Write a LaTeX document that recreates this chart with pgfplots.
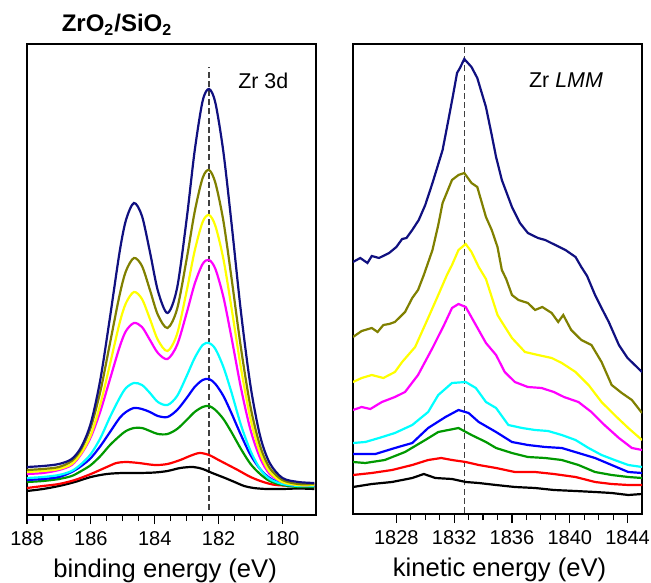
\documentclass[border=0pt]{standalone}
\usepackage{pgfplots}
\pgfplotsset{compat=1.18}
\usepackage{fontspec}
\setmainfont{Liberation Sans}

\definecolor{cnavy}{RGB}{16,16,128}
\definecolor{colive}{RGB}{128,128,0}
\definecolor{cyel}{RGB}{255,255,0}
\definecolor{cmag}{RGB}{255,0,255}
\definecolor{ccyan}{RGB}{0,255,255}
\definecolor{cblue}{RGB}{0,0,255}
\definecolor{cgreen}{RGB}{0,153,0}
\definecolor{cred}{RGB}{255,0,0}

\pgfplotsset{
  spec/.style={
    scale only axis, width=144.5pt,
    ymax=471, ytick=\empty,
    xtick pos=left, xtick align=outside,
    major tick length=4.5pt, minor tick length=3pt,
    tick style={black, line width=0.6pt},
    axis line style={line width=0.6pt},
    every axis plot/.append style={line width=1.1pt},
    tick label style={font=\fontsize{10}{12}\selectfont},
    xticklabel style={anchor=base, yshift=-10.6pt},
    /pgf/number format/assume math mode=true,
    /pgf/number format/set thousands separator={},
    xlabel style={font=\fontsize{12.8}{15}\selectfont, anchor=base},
  },
  vline/.style={black!75, line width=0.6pt, dash pattern=on 3pt off 1.6pt},
}

\begin{document}
\begin{tikzpicture}
\path[use as bounding box] (0pt,0pt) rectangle (325.5pt,291pt);

\node[font=\bfseries\fontsize{12}{14}\selectfont, anchor=base] at (58.5pt,275pt)
  {ZrO\textsubscript{2}/SiO\textsubscript{2}};

% Zr 3d (binding energy)
\begin{axis}[spec, at={(13.5pt,33.5pt)}, anchor=south west, height=235.5pt, ymin=0,
  x dir=reverse, xmin=178.95, xmax=188,
  xtick={180,182,184,186,188}, minor x tick num=3,
  xlabel={binding energy (eV)},
  xlabel style={at={(axis description cs:0.478,0)}, yshift=-31pt}]
\addplot[vline] coordinates {(182.3,5) (182.3,448)};
\addplot[black, smooth] coordinates {
(188,24) (187.5,26) (187,29) (186.5,33) (186,38) (185.5,41) (185,42) (184.5,42)
(184,42.5) (183.6,44) (183.2,47) (182.8,48) (182.5,46) (182.2,42) (181.8,37)
(181.5,33) (181.2,29) (180.9,27) (180.5,26) (180,26) (179.5,26.5) (179,26)};
\addplot[cred, smooth] coordinates {
(188,27) (187.5,29) (187,31) (186.5,35) (186,41) (185.5,48) (185.2,52) (184.9,53)
(184.5,52) (184,50) (183.6,51) (183.2,55) (182.9,59) (182.6,62) (182.3,60) (182,55)
(181.7,50) (181.4,45) (181,38) (180.6,33) (180.2,30) (179.5,29) (179,28)};
\addplot[cgreen, smooth] coordinates {
(188,33) (187.5,34) (187,36) (186.6,39) (186.3,44) (186,50) (185.7,59) (185.4,70)
(185.1,79) (184.9,84) (184.65,87) (184.4,87) (184.15,84) (183.9,81) (183.6,81)
(183.3,86) (183,95) (182.75,103) (182.5,108) (182.3,109) (182.1,105) (181.85,96)
(181.6,83) (181.3,66) (181,51) (180.7,41) (180.4,34) (180,30) (179.5,28) (179,28)};
\addplot[cblue, smooth] coordinates {
(188,35) (187.5,36) (187,38) (186.6,43) (186.3,49) (186,57) (185.7,69) (185.4,83)
(185.1,97) (184.9,103) (184.65,107) (184.4,106) (184.15,103) (183.9,99) (183.6,98)
(183.3,105) (183,117) (182.75,128) (182.5,135) (182.3,136) (182.1,131) (181.85,119)
(181.6,102) (181.3,80) (181,60) (180.7,46) (180.4,37) (180,31) (179.5,29) (179,29)};
\addplot[ccyan, smooth] coordinates {
(188,37) (187.5,38) (187,40) (186.6,44) (186.3,51) (186,61) (185.7,77) (185.4,98)
(185.1,117) (184.9,127) (184.65,132) (184.4,130) (184.15,122) (183.9,113) (183.6,110)
(183.3,119) (183,139) (182.75,157) (182.5,170) (182.3,172) (182.1,166) (181.85,148)
(181.6,123) (181.3,90) (181,64) (180.7,46) (180.4,36) (180,31) (179.5,29) (179,29)};
\addplot[cmag, smooth] coordinates {
(188,41) (187.5,42) (187,45) (186.6,50) (186.3,61) (186,78) (185.7,104) (185.4,136)
(185.1,168) (184.9,184) (184.65,192) (184.4,188) (184.15,175) (183.9,162) (183.6,156)
(183.3,170) (183,202) (182.75,231) (182.5,251) (182.3,255) (182.1,246) (181.85,218)
(181.6,178) (181.3,127) (181,85) (180.7,57) (180.4,41) (180,33) (179.5,30) (179,30)};
\addplot[cyel, smooth] coordinates {
(188,43) (187.5,44) (187,46) (186.6,51) (186.3,62) (186,80) (185.7,111) (185.4,151)
(185.1,192) (184.9,212) (184.65,223) (184.4,216) (184.15,196) (183.9,175) (183.6,164)
(183.3,181) (183,224) (182.75,264) (182.5,293) (182.3,300) (182.1,289) (181.85,256)
(181.6,208) (181.3,147) (181,96) (180.7,62) (180.4,43) (180,33) (179.5,30) (179,30)};
\addplot[colive, smooth] coordinates {
(188,45) (187.5,46) (187,48) (186.6,54) (186.3,66) (186,88) (185.7,124) (185.4,172)
(185.1,220) (184.9,244) (184.65,257) (184.4,249) (184.15,225) (183.9,200) (183.6,187)
(183.3,206) (183,256) (182.75,303) (182.5,337) (182.3,345) (182.1,332) (181.85,294)
(181.6,238) (181.3,167) (181,108) (180.7,69) (180.4,47) (180,35) (179.5,31) (179,31)};
\addplot[cnavy, smooth] coordinates {
(188,48) (187.5,49) (187,51) (186.6,56) (186.3,68) (186,92) (185.7,136) (185.4,198)
(185.1,263) (184.9,295) (184.65,312) (184.4,299) (184.15,263) (183.9,224) (183.6,202)
(183.3,227) (183,296) (182.75,364) (182.5,414) (182.3,426) (182.1,412) (181.85,363)
(181.6,293) (181.3,203) (181,129) (180.7,79) (180.4,52) (180,37) (179.5,33) (179,32)};
\node[font=\fontsize{10.7}{13}\selectfont] at (axis cs:180.6,434.5) {Zr 3d};
\end{axis}

% Zr LMM (kinetic energy)
\begin{axis}[spec, at={(176.5pt,34pt)}, anchor=south west, height=235pt, ymin=1,
  xmin=1825, xmax=1845,
  xtick={1828,1832,1836,1840,1844}, minor x tick num=3,
  xlabel={kinetic energy (eV)},
  xlabel style={at={(axis description cs:0.507,0)}, yshift=-31pt}]
\addplot[vline] coordinates {(1832.7,2) (1832.7,468)};
\addplot[black] coordinates {
(1825,28) (1826.3,31) (1827.7,33) (1829.1,37) (1829.9,41) (1830.7,37) (1831.85,36)
(1832.8,33) (1833.7,32) (1834.9,30) (1836.2,28) (1837.6,27) (1838.9,25) (1840.4,24)
(1841.75,23) (1842.9,22) (1844.05,20) (1845,21)};
\addplot[cred] coordinates {
(1825,40) (1826.3,42) (1827.7,45) (1829.1,50) (1830.2,55) (1831.1,57) (1831.85,55)
(1832.8,53) (1833.7,50) (1834.9,47) (1836.2,43) (1837.6,43) (1838.9,41) (1840.4,38)
(1841.75,33) (1842.9,31) (1844.05,30) (1845,30)};
\addplot[cgreen] coordinates {
(1825,53) (1825.85,52) (1827.2,55) (1828.6,63) (1830,75) (1830.9,83) (1832.3,87)
(1833.2,80) (1834.2,73) (1834.9,67) (1836,62) (1837.1,58) (1838.3,57) (1839.45,55)
(1840.6,50) (1841.75,43) (1842.9,40) (1844.05,38) (1845,37)};
\addplot[cblue] coordinates {
(1825,61) (1826.55,61) (1827.9,67) (1829.1,72) (1830.2,87) (1831.4,98) (1832.3,105)
(1833,102) (1833.7,93) (1834.9,83) (1836,73) (1837.1,70) (1838.3,68) (1839.45,67)
(1840.6,62) (1841.75,57) (1842.9,50) (1844.05,43) (1845,42)};
\addplot[ccyan] coordinates {
(1825,72) (1825.85,73) (1826.8,77) (1827.9,82) (1829.1,90) (1830.2,103) (1830.9,120)
(1831.85,132) (1832.8,133) (1833.5,127) (1834.2,113) (1834.9,107) (1835.75,90)
(1836.7,87) (1837.6,85) (1838.5,84) (1839.45,80) (1840.4,75) (1841.3,67) (1842.2,60)
(1843.1,55) (1844.05,50) (1845,48)};
\addplot[cmag] coordinates {
(1825,105) (1825.6,108) (1826.2,106) (1827,113) (1827.9,118) (1828.6,123) (1829.5,140)
(1830.5,167) (1831.3,190) (1831.85,207) (1832.3,211) (1832.8,208) (1833.5,190)
(1834.2,172) (1834.9,160) (1835.5,143) (1836.2,133) (1837.1,128) (1838.05,127)
(1838.9,123) (1839.6,118) (1840.6,113) (1841.5,103) (1842.4,90) (1843.4,77)
(1844.3,67) (1845,65)};
\addplot[cyel] coordinates {
(1825,133) (1825.6,137) (1826.3,140) (1827.1,137) (1827.9,143) (1828.4,153) (1829.3,168)
(1830.2,197) (1830.9,220) (1831.5,240) (1831.85,250) (1832.3,265) (1832.8,271)
(1833.2,263) (1833.7,248) (1834.2,236) (1834.6,218) (1835,200) (1835.3,193) (1836,177)
(1836.9,163) (1837.8,160) (1838.75,157) (1839.45,152) (1840.4,143) (1841.3,130)
(1842.2,113) (1843.1,100) (1844.05,87) (1845,75)};
\addplot[colive] coordinates {
(1825,178) (1825.6,184) (1826.3,187) (1826.7,183) (1827.1,190) (1827.5,191) (1827.9,193)
(1828.6,203) (1829.1,217) (1829.5,225) (1829.9,240) (1830.5,265) (1830.9,290)
(1831.2,312) (1831.85,335) (1832.3,340) (1832.7,342) (1833.2,332) (1833.6,328)
(1834.2,298) (1834.6,285) (1835,268) (1835.3,245) (1835.6,236) (1836,220) (1836.45,215)
(1837.1,212) (1837.6,205) (1838.1,208) (1838.75,202) (1839.2,193) (1839.55,200)
(1840.1,185) (1840.8,175) (1841.5,170) (1842.2,153) (1842.9,130) (1843.6,122)
(1844.3,115) (1845,102)};
\addplot[cnavy] coordinates {
(1825,253) (1825.5,257) (1826,252) (1826.3,259) (1826.8,257) (1827.5,262) (1828,268)
(1828.4,276) (1828.7,277) (1829.1,285) (1829.55,295) (1830,310) (1830.5,332)
(1831.2,365) (1831.6,395) (1831.9,418) (1832.2,442) (1832.4,447) (1832.7,456)
(1833.2,448) (1833.6,437) (1834.2,408) (1834.6,380) (1834.9,358) (1835.3,335)
(1836,308) (1836.55,292) (1837.1,282) (1837.8,277) (1838.3,275) (1839,270) (1839.7,265)
(1840.4,258) (1840.8,248) (1841.2,239) (1841.75,220) (1842.2,207) (1842.7,193)
(1843.4,170) (1844,157) (1844.5,150) (1845,143)};
\node[font=\fontsize{10.7}{13}\selectfont] at (axis cs:1839.74,435) {Zr \textit{LMM}};
\end{axis}
\end{tikzpicture}
\end{document}
